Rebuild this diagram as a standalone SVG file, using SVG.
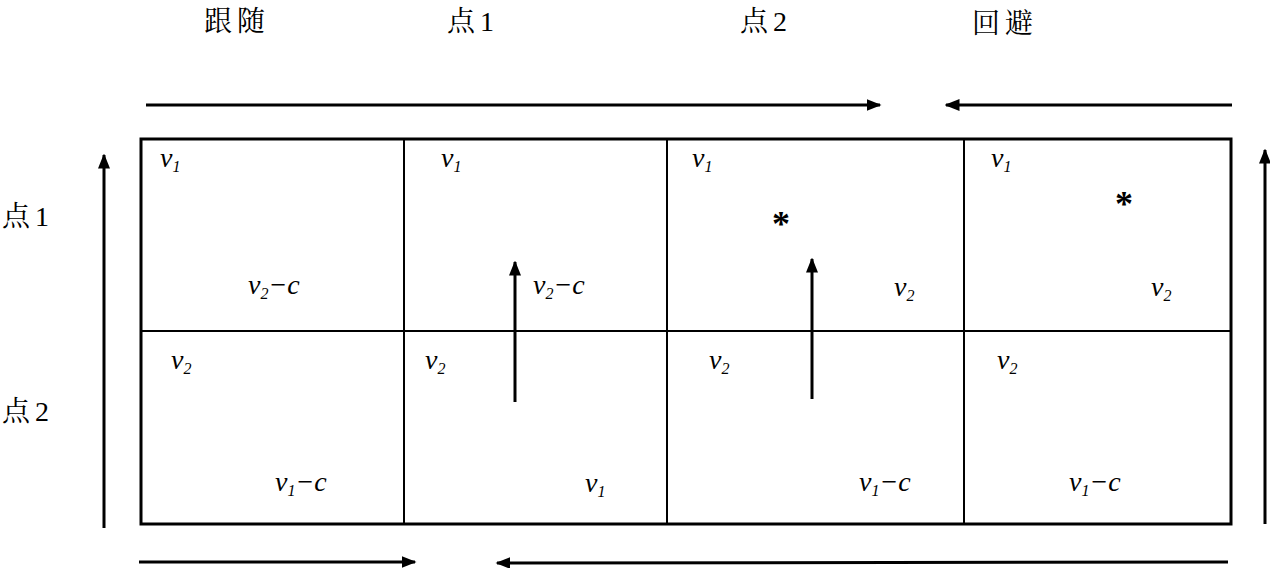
<svg xmlns="http://www.w3.org/2000/svg" width="1270" height="568" viewBox="0 0 1270 568">
<style>
.cn{font-family:'Liberation Serif','Noto Serif CJK SC','Noto Sans CJK SC',serif;font-size:28px;letter-spacing:5px;fill:#000}
.m{font-family:'Liberation Serif','DejaVu Serif',serif;font-style:italic;font-size:28px;fill:#000}
.s{font-size:16px}
.ast{font-family:'Liberation Serif',serif;font-size:36px;font-weight:bold;fill:#000}
.ln{stroke:#000;stroke-width:3;fill:none}
.grid{stroke:#000;stroke-width:2;fill:none}
</style>
<defs>
<marker id="ah" viewBox="0 0 10 10" refX="9" refY="5" markerWidth="5" markerHeight="5" markerUnits="strokeWidth" orient="auto">
<path d="M0,1 L10,5 L0,9 z" fill="#000"/>
</marker>
</defs>
<rect width="1270" height="568" fill="#fff"/>
<g id="labels">
<text class="cn" x="204" y="31">跟随</text>
<text class="cn" x="447" y="31">点1</text>
<text class="cn" x="740" y="31">点2</text>
<text class="cn" x="972" y="33">回避</text>
<text class="cn" x="2" y="226">点1</text>
<text class="cn" x="2" y="421">点2</text>
</g>
<g id="grid">
<rect class="ln" x="141" y="139" width="1090" height="385"/>
<line class="grid" x1="404" y1="139" x2="404" y2="524"/>
<line class="grid" x1="667" y1="139" x2="667" y2="524"/>
<line class="grid" x1="964" y1="139" x2="964" y2="524"/>
<line class="grid" x1="141" y1="331" x2="1231" y2="331"/>
</g>
<g id="cells">
<g id="c00"><text class="m" x="160" y="167">v<tspan class="s" dy="5">1</tspan></text><text class="m" x="248" y="294">v<tspan class="s" dy="5">2</tspan><tspan dy="-5">−c</tspan></text></g>
<g id="c01"><text class="m" x="441" y="167">v<tspan class="s" dy="5">1</tspan></text><text class="m" x="533" y="294">v<tspan class="s" dy="5">2</tspan><tspan dy="-5">−c</tspan></text></g>
<g id="c02"><text class="m" x="692" y="167">v<tspan class="s" dy="5">1</tspan></text><text class="ast" x="772" y="236">*</text><text class="m" x="894" y="296">v<tspan class="s" dy="5">2</tspan></text></g>
<g id="c03"><text class="m" x="991" y="167">v<tspan class="s" dy="5">1</tspan></text><text class="ast" x="1115" y="216">*</text><text class="m" x="1151" y="296">v<tspan class="s" dy="5">2</tspan></text></g>
<g id="c10"><text class="m" x="171" y="369">v<tspan class="s" dy="5">2</tspan></text><text class="m" x="275" y="491">v<tspan class="s" dy="5">1</tspan><tspan dy="-5">−c</tspan></text></g>
<g id="c11"><text class="m" x="425" y="369">v<tspan class="s" dy="5">2</tspan></text><text class="m" x="585" y="492">v<tspan class="s" dy="5">1</tspan></text></g>
<g id="c12"><text class="m" x="709" y="369">v<tspan class="s" dy="5">2</tspan></text><text class="m" x="859" y="491">v<tspan class="s" dy="5">1</tspan><tspan dy="-5">−c</tspan></text></g>
<g id="c13"><text class="m" x="997" y="369">v<tspan class="s" dy="5">2</tspan></text><text class="m" x="1069" y="491">v<tspan class="s" dy="5">1</tspan><tspan dy="-5">−c</tspan></text></g>
</g>
<g id="connectors">
<line class="ln" x1="146" y1="105" x2="880" y2="105" marker-end="url(#ah)"/>
<line class="ln" x1="1232" y1="105" x2="946" y2="105" marker-end="url(#ah)"/>
<line class="ln" x1="104" y1="528" x2="104" y2="155" marker-end="url(#ah)"/>
<line class="ln" x1="1265" y1="524" x2="1265" y2="150" marker-end="url(#ah)"/>
<line class="ln" x1="139" y1="562" x2="415" y2="562" marker-end="url(#ah)"/>
<line class="ln" x1="1228" y1="562" x2="497" y2="563" marker-end="url(#ah)"/>
<line class="ln" x1="515" y1="402" x2="515" y2="262" marker-end="url(#ah)"/>
<line class="ln" x1="812" y1="399" x2="812" y2="259" marker-end="url(#ah)"/>
</g>
</svg>
